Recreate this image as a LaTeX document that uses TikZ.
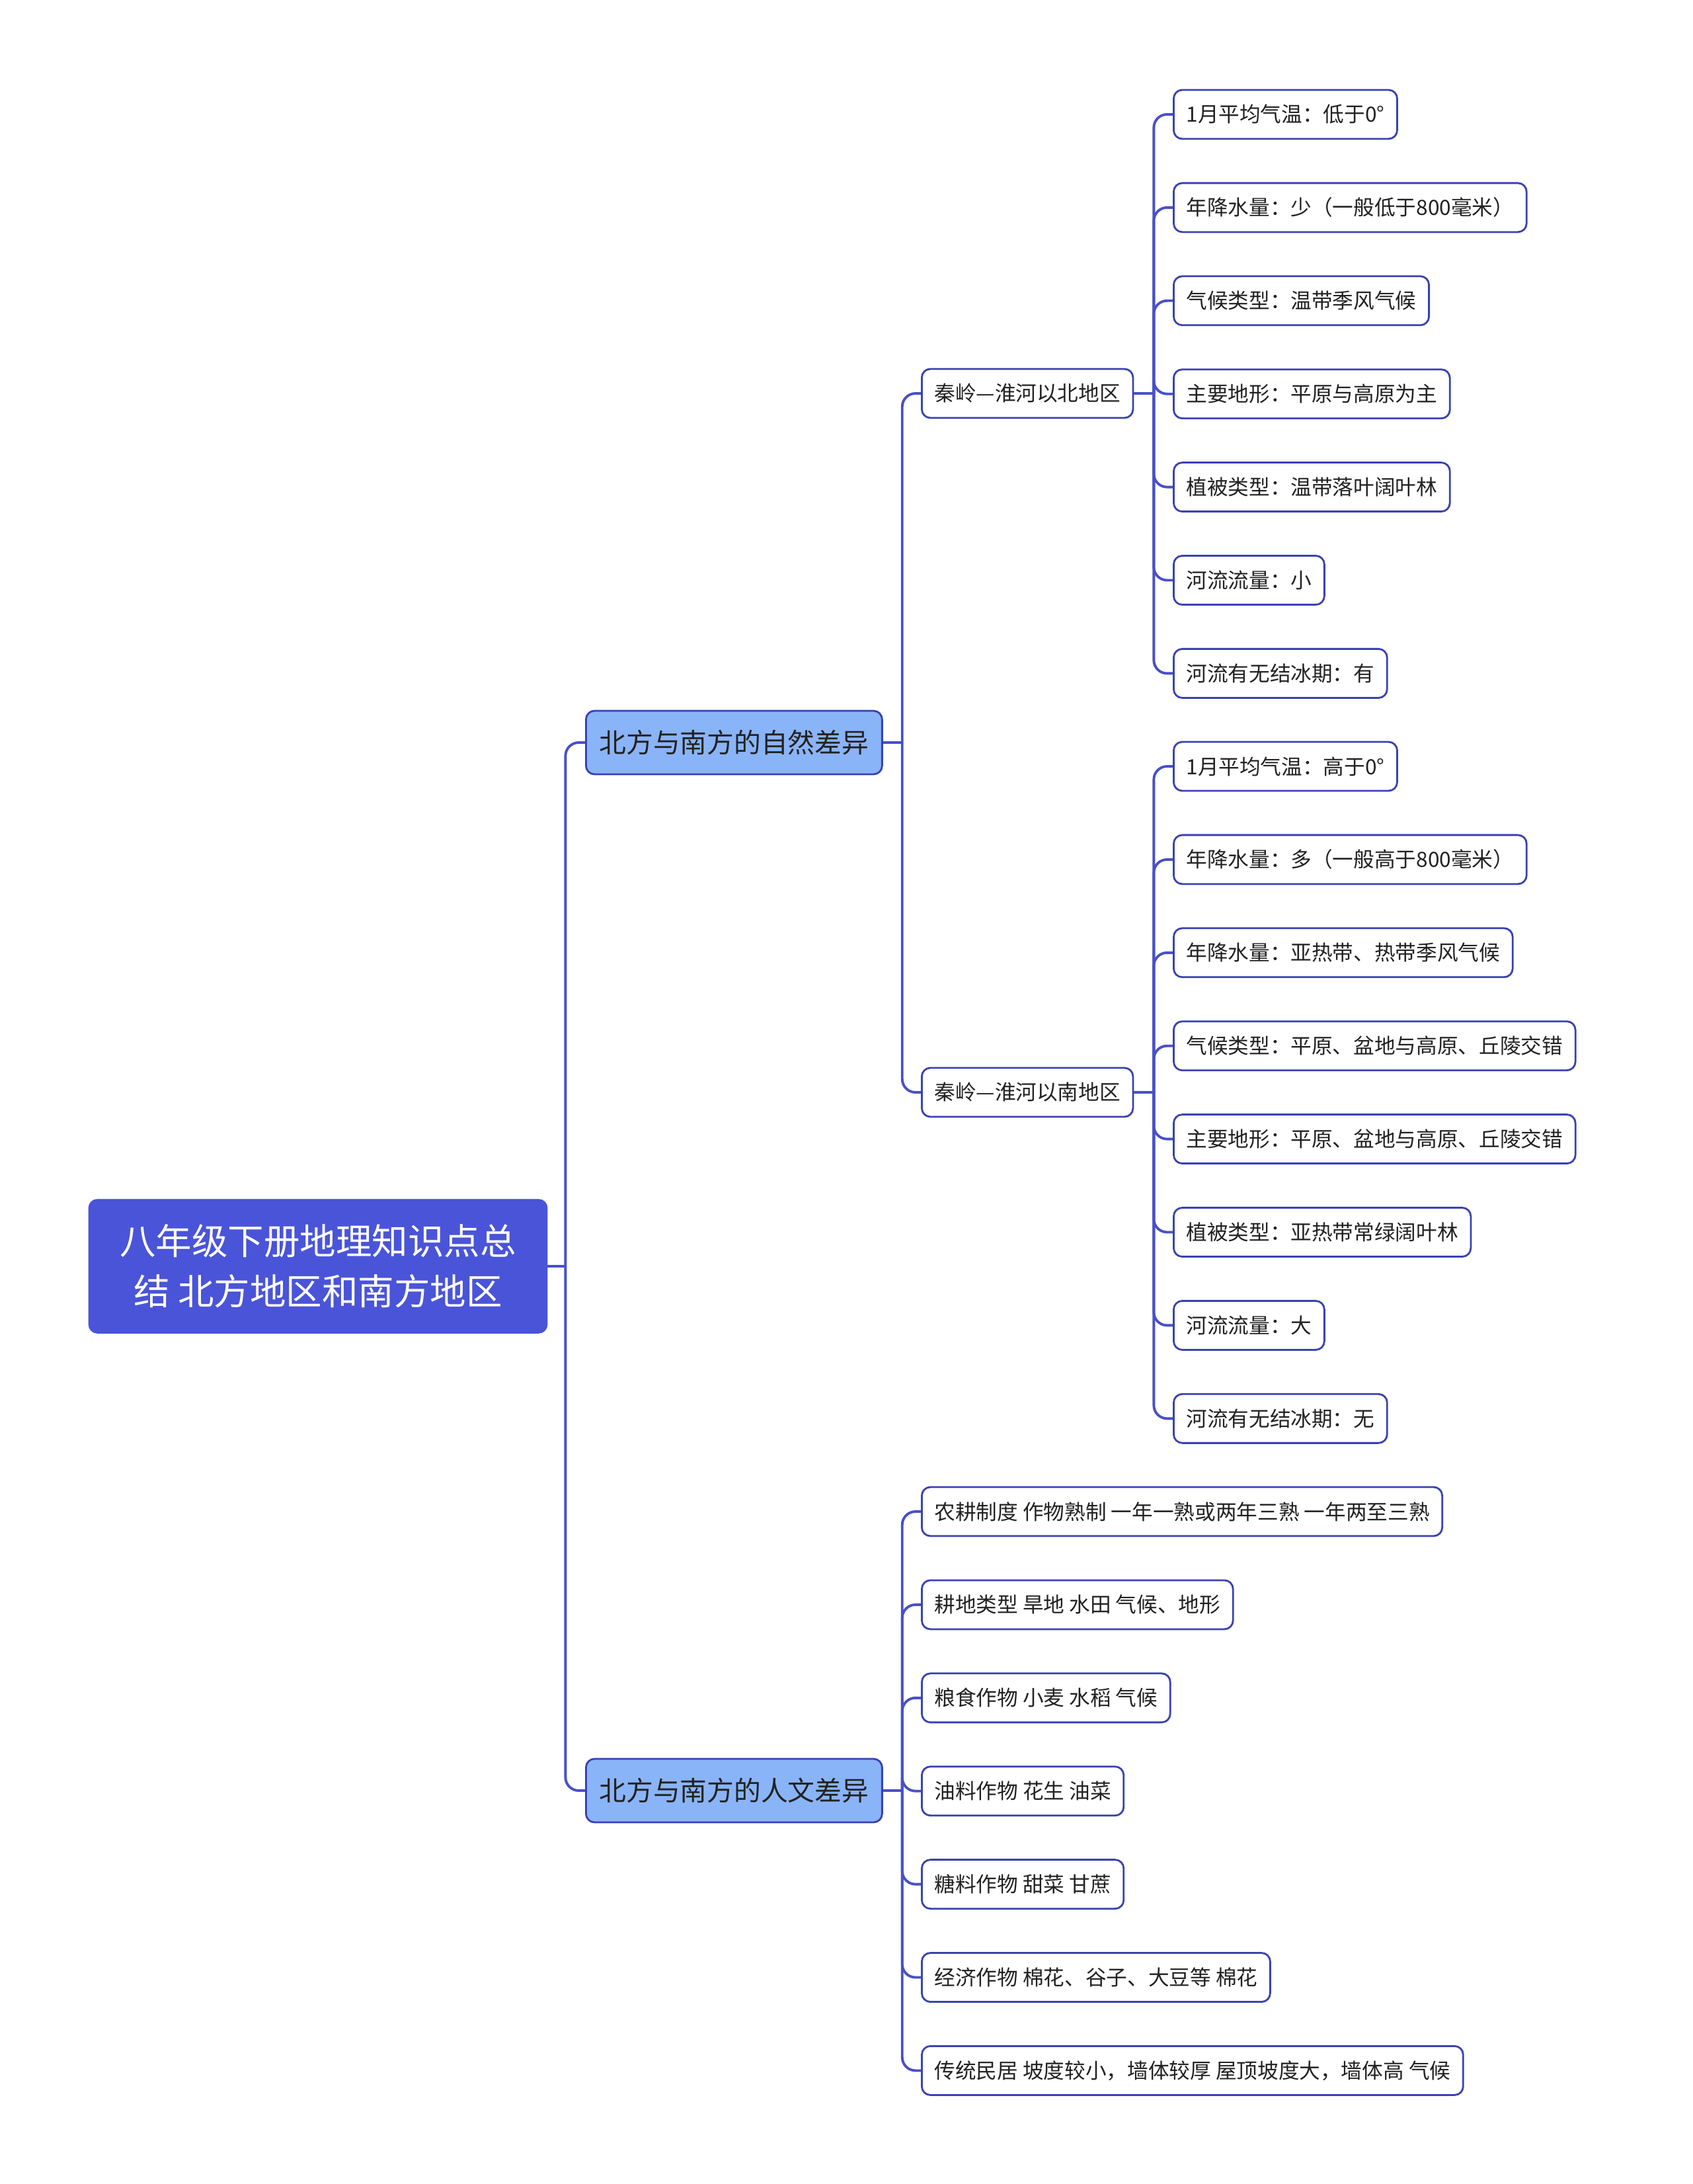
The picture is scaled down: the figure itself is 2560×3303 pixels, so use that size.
\documentclass[tikz,border=0pt]{standalone}
\usepackage{fontspec}
\setmainfont{Noto Sans CJK SC}
\usepackage{tikz}
\usetikzlibrary{positioning}
\usepackage{xcolor}
\definecolor{rootblue}{RGB}{74,84,216}
\definecolor{lightblue}{RGB}{138,180,248}
\definecolor{edgeblue}{RGB}{58,66,176}
\definecolor{linkblue}{RGB}{72,80,200}
\definecolor{inkgray}{RGB}{34,34,34}

\begin{document}
\begin{tikzpicture}[x=0.01cm,y=-0.01cm,
  rootbox/.style={rectangle,rounded corners=0.13cm,fill=rootblue,draw=rootblue,text=white,
    font=\fontsize{15.5}{21.6}\selectfont,align=center,minimum width=6.93cm,minimum height=2.02cm},
  mainbox/.style={rectangle,rounded corners=0.13cm,draw=edgeblue,line width=0.8pt,fill=lightblue,
    text=inkgray,font=\fontsize{11.6}{14}\selectfont,inner xsep=0.2cm,minimum height=0.96cm,anchor=west},
  leafbox/.style={rectangle,rounded corners=0.13cm,draw=edgeblue,line width=0.8pt,fill=white,
    text=inkgray,font=\fontsize{9}{11}\selectfont,inner xsep=0.19cm,minimum height=0.74cm,anchor=west},
  link/.style={draw=linkblue,line width=1.1pt},
  elbow/.style={link,rounded corners=0.2cm}]

\useasboundingbox (0,0) rectangle (2560,3303);

% root and main branches
\node[rootbox] (root) at (481,1915) {八年级下册地理知识点总\\结 北方地区和南方地区};
\node[mainbox] (nature) at (885,1123) {北方与南方的自然差异};
\node[mainbox] (culture) at (885,2708) {北方与南方的人文差异};

\path (root.east) ++(27,0) coordinate (rj);
\draw[link] (root.east) -- (rj);
\foreach \k in {nature,culture}
  \draw[elbow] (rj) |- (\k.west);

% north and south of the Qinling-Huaihe line
\node[leafbox] (north) at (1393,595) {秦岭—淮河以北地区};
\node[leafbox] (south) at (1393,1652) {秦岭—淮河以南地区};

\path (nature.east) ++(29,0) coordinate (natj);
\draw[link] (nature.east) -- (natj);
\foreach \k in {north,south}
  \draw[elbow] (natj) |- (\k.west);

\path (north.east) ++(30,0) coordinate (nj);
\draw[link] (north.east) -- (nj);
\foreach \t [count=\i from 0] in {{1月平均气温：低于0°},{年降水量：少（一般低于800毫米）},
    {气候类型：温带季风气候},{主要地形：平原与高原为主},{植被类型：温带落叶阔叶林},
    {河流流量：小},{河流有无结冰期：有}} {
  \node[leafbox] (nl\i) at (1774,173+140.9*\i) {\t};
  \draw[elbow] (nj) |- (nl\i.west);
}

\path (south.east) ++(30,0) coordinate (sj);
\draw[link] (south.east) -- (sj);
\foreach \t [count=\i from 0] in {{1月平均气温：高于0°},{年降水量：多（一般高于800毫米）},
    {年降水量：亚热带、热带季风气候},{气候类型：平原、盆地与高原、丘陵交错},
    {主要地形：平原、盆地与高原、丘陵交错},{植被类型：亚热带常绿阔叶林},
    {河流流量：大},{河流有无结冰期：无}} {
  \node[leafbox] (sl\i) at (1774,1159+140.9*\i) {\t};
  \draw[elbow] (sj) |- (sl\i.west);
}

% human geography
\path (culture.east) ++(29,0) coordinate (cj);
\draw[link] (culture.east) -- (cj);
\foreach \t [count=\i from 0] in {{农耕制度 作物熟制 一年一熟或两年三熟 一年两至三熟},
    {耕地类型 旱地 水田 气候、地形},{粮食作物 小麦 水稻 气候},{油料作物 花生 油菜},
    {糖料作物 甜菜 甘蔗},{经济作物 棉花、谷子、大豆等 棉花},
    {传统民居 坡度较小，墙体较厚 屋顶坡度大，墙体高 气候}} {
  \node[leafbox] (cl\i) at (1393,2286+140.9*\i) {\t};
  \draw[elbow] (cj) |- (cl\i.west);
}
\end{tikzpicture}
\end{document}
